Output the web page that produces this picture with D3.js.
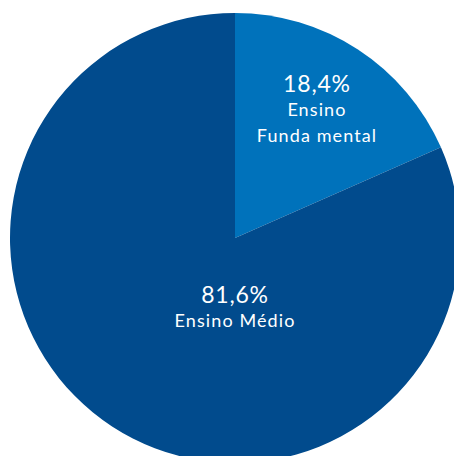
<!DOCTYPE html>
<html>
<head>
<meta charset="utf-8">
<script src="https://cdn.jsdelivr.net/npm/d3@7"></script>
<style>
  body { margin: 0; background: #fff; }
</style>
</head>
<body>
<div id="pie-chart"></div>
<script>
const categories = ['Ensino\nFunda mental', 'Ensino Médio'];
const values = [18.4, 81.6];
const colors = ['#0072BB', '#014B8D'];

const width = 454;
const height = 456;
const radius = 225;
const cx = 235, cy = 238;

const data = categories.map((c, i) => ({ category: c, value: values[i] }));

const svg = d3.select('#pie-chart')
  .append('svg')
  .attr('width', width)
  .attr('height', height)
  .append('g')
  .attr('transform', `translate(${cx}, ${cy})`);

const pie = d3.pie().sort(null).value(d => d.value);
const arc = d3.arc().innerRadius(0).outerRadius(radius);
const data_ready = pie(data);

svg.selectAll('path')
  .data(data_ready)
  .enter()
  .append('path')
  .attr('d', arc)
  .attr('fill', (d, i) => colors[i]);

// label positions: first slice on its centroid, big slice just below centre
const labelArc = d3.arc().innerRadius(150).outerRadius(150);
const labelPos = d => d.index === 0 ? labelArc.centroid(d) : [0, 60];

const labels = svg.selectAll('g.label')
  .data(data_ready)
  .enter()
  .append('g')
  .attr('class', 'label')
  .attr('transform', d => `translate(${labelPos(d)})`)
  .attr('text-anchor', 'middle')
  .attr('fill', '#fff')
  .style('font-family', 'Lato, sans-serif');

labels.append('text')
  .attr('y', d => d.index === 0 ? -20 : 5)
  .style('font-size', '23px')
  .style('letter-spacing', '0.8px')
  .text(d => d.data.value.toFixed(1).replace('.', ',') + '%');

labels.each(function(d) {
  const lines = d.data.category.split('\n');
  const base = d.index === 0 ? 4 : 29;
  d3.select(this).selectAll('text.cat')
    .data(lines)
    .enter()
    .append('text')
    .attr('class', 'cat')
    .attr('y', (l, j) => base + j * 26)
    .style('font-size', '18px')
    .style('letter-spacing', '1.1px')
    .text(l => l);
});
</script>
</body>
</html>
